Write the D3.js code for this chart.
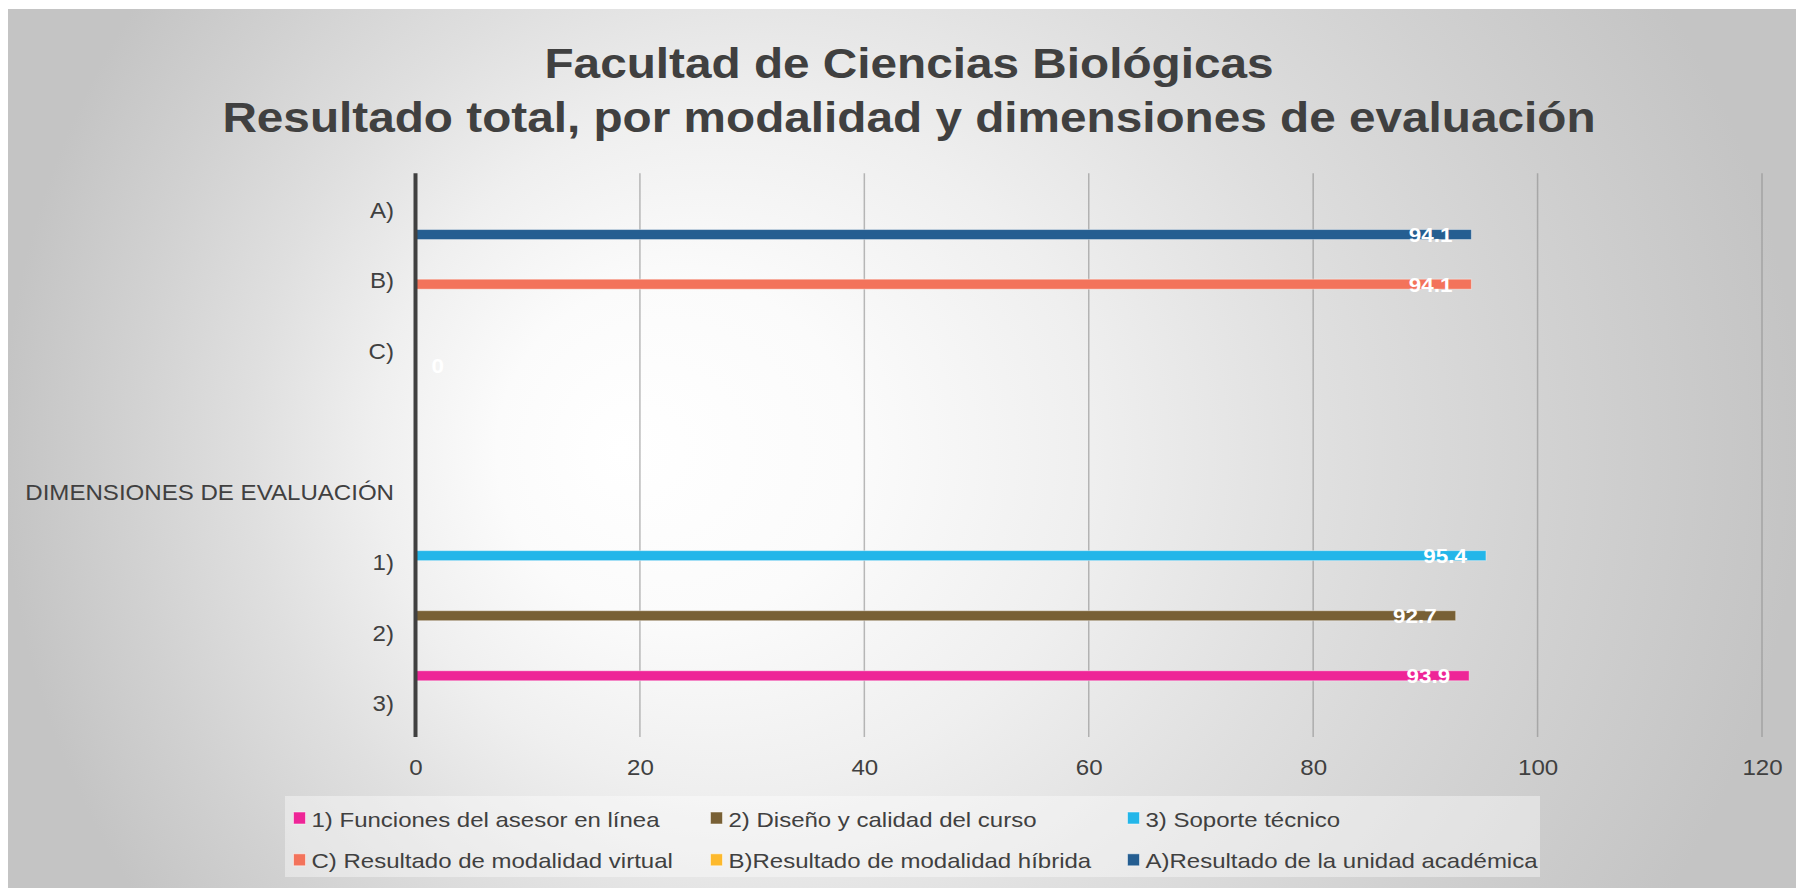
<!DOCTYPE html>
<html>
<head>
<meta charset="utf-8">
<script src="https://cdn.jsdelivr.net/npm/d3@7"></script>
<style>
  html, body { margin: 0; padding: 0; background: #ffffff; }
  svg { display: block; font-family: "Liberation Sans", Arial, sans-serif; }
</style>
</head>
<body>
<svg id="chart" width="1796" height="888"></svg>
<script>
// ---------- data ----------
const titleLines = ["Facultad de Ciencias Biológicas", "Resultado total, por modalidad y dimensiones de evaluación"];
const categories = ["A)", "B)", "C)", " ", "DIMENSIONES DE EVALUACIÓN", "1)", "2)", "3)"];
const seriesNames = [
  "1) Funciones del asesor en línea",
  "2) Diseño y calidad del curso",
  "3) Soporte técnico",
  "C) Resultado de modalidad virtual",
  "B)Resultado de modalidad híbrida",
  "A)Resultado de la unidad académica"
];
const seriesColors = ["#EE2597", "#786035", "#23B6E9", "#F3735B", "#FDB92C", "#255E91"];
// values aligned with categories (null = no value)
const funcionesValues = [null, null, null, null, null, null, null, 93.9];
const disenoValues    = [null, null, null, null, null, null, 92.7, null];
const soporteValues   = [null, null, null, null, null, 95.4, null, null];
const virtualValues   = [null, 94.1, null, null, null, null, null, null];
const hibridaValues   = [null, null, 0, null, null, null, null, null];
const unidadValues    = [94.1, null, null, null, null, null, null, null];
const seriesValues = [funcionesValues, disenoValues, soporteValues, virtualValues, hibridaValues, unidadValues];
const xTicks = [0, 20, 40, 60, 80, 100, 120];

// ---------- layout ----------
const W = 1796, H = 888;
const plot = { left: 415.5, right: 1762, top: 173.3, bottom: 737 };
const FONT = "'Liberation Sans', Arial, sans-serif";
const TXT = "#404040";

const svg = d3.select("#chart");
const defs = svg.append("defs");

// background gradient
const grad = defs.append("radialGradient")
  .attr("id", "bg")
  .attr("gradientUnits", "userSpaceOnUse")
  .attr("cx", 0).attr("cy", 0).attr("r", 1)
  .attr("fx", -0.313).attr("fy", 0)
  .attr("gradientTransform", "translate(902,450) scale(900,850)");
[[0, "#ffffff"], [0.2, "#fbfbfb"], [0.4, "#efefef"], [0.6, "#dfdfdf"], [0.8, "#d1d1d1"], [1, "#c4c4c4"]]
  .forEach(s => grad.append("stop").attr("offset", s[0]).attr("stop-color", s[1]));

svg.append("rect").attr("x", 0).attr("y", 0).attr("width", W).attr("height", H).attr("fill", "#ffffff");
svg.append("rect").attr("x", 8).attr("y", 9).attr("width", W - 8).attr("height", H - 9).attr("fill", "url(#bg)");

// title
svg.append("g").selectAll("text").data(titleLines).join("text")
  .attr("transform", (d, i) => `translate(909,${77.5 + i * 54.5}) scale(1.11,1)`)
  .attr("text-anchor", "middle")
  .attr("font-size", 43)
  .attr("font-weight", "bold")
  .attr("fill", TXT)
  .text(d => d);

// scales
const x = d3.scaleLinear().domain([0, 120]).range([plot.left, plot.right]);
const y0 = d3.scaleBand().domain(categories).range([plot.top, plot.bottom]).padding(0);
const y1 = d3.scaleBand().domain(seriesNames).range([0, y0.bandwidth()])
  .paddingInner(0.04).paddingOuter(0.4075);

// gridlines
svg.append("g").selectAll("line").data(xTicks.filter(t => t > 0)).join("line")
  .attr("x1", d => x(d)).attr("x2", d => x(d))
  .attr("y1", plot.top).attr("y2", plot.bottom)
  .attr("stroke", "#8c8c8c").attr("stroke-opacity", 0.6).attr("stroke-width", 1.5);

// bars
const barData = [];
seriesNames.forEach((s, si) => {
  seriesValues[si].forEach((v, ci) => {
    if (v !== null) barData.push({ series: s, color: seriesColors[si], cat: categories[ci], value: v });
  });
});

svg.append("g").selectAll("rect").data(barData.filter(d => d.value > 0)).join("rect")
  .attr("x", x(0))
  .attr("y", d => y0(d.cat) + y1(d.series))
  .attr("width", d => x(d.value) - x(0))
  .attr("height", y1.bandwidth())
  .attr("fill", d => d.color)
  .attr("stroke", "rgba(255,255,255,0.4)")
  .attr("stroke-width", 1);

// data labels
svg.append("g").selectAll("text").data(barData).join("text")
  .attr("transform", d => {
    const cy = y0(d.cat) + y1(d.series) + y1.bandwidth() / 2 + 7.5;
    const px = d.value > 0 ? x(d.value) - 19 : x(0) + 16;
    return `translate(${px},${cy}) scale(1.07,1)`;
  })
  .attr("text-anchor", d => d.value > 0 ? "end" : "start")
  .attr("font-size", 21)
  .attr("font-weight", "bold")
  .attr("fill", "#ffffff")
  .text(d => d3.format(".1f")(d.value).replace(/\.0$/, ""));

// category axis (left)
const gy = svg.append("g").attr("transform", "translate(394,0)")
  .call(d3.axisLeft(y0).tickSize(0).tickPadding(0));
gy.select(".domain").remove();
gy.selectAll("text")
  .attr("x", 0).attr("dy", 0).attr("y", 9.5)
  .attr("transform", "scale(1.07,1)")
  .attr("font-family", FONT).attr("font-size", 22.5)
  .attr("fill", TXT).attr("text-anchor", "end");

// value axis (bottom) labels
const gx = svg.append("g").attr("transform", `translate(0,${plot.bottom})`)
  .call(d3.axisBottom(x).tickValues(xTicks).tickSize(0).tickPadding(0));
gx.select(".domain").remove();
gx.selectAll("text")
  .attr("y", 38).attr("dy", 0)
  .attr("transform", "scale(1.07,1)")
  .attr("font-family", FONT).attr("font-size", 22.5)
  .attr("fill", TXT).attr("text-anchor", "middle");

// vertical axis line
svg.append("line")
  .attr("x1", x(0)).attr("x2", x(0))
  .attr("y1", plot.top).attr("y2", plot.bottom)
  .attr("stroke", "#404040").attr("stroke-width", 4);

// legend
const legend = svg.append("g");
legend.append("rect")
  .attr("x", 285).attr("y", 796).attr("width", 1255).attr("height", 81)
  .attr("fill", "#ffffff").attr("fill-opacity", 0.4);
const li = legend.selectAll("g.item").data(seriesNames).join("g")
  .attr("class", "item")
  .attr("transform", (d, i) => `translate(${293.5 + (i % 3) * 417},${818 + Math.floor(i / 3) * 41.8})`);
li.append("rect")
  .attr("x", 0).attr("y", -6).attr("width", 12).attr("height", 12)
  .attr("fill", (d, i) => seriesColors[i])
  .attr("stroke", "rgba(255,255,255,0.5)").attr("stroke-width", 1);
li.append("text")
  .attr("transform", "translate(18,8.5) scale(1.2,1)")
  .attr("font-size", 20)
  .attr("fill", TXT)
  .text(d => d);
</script>
</body>
</html>
